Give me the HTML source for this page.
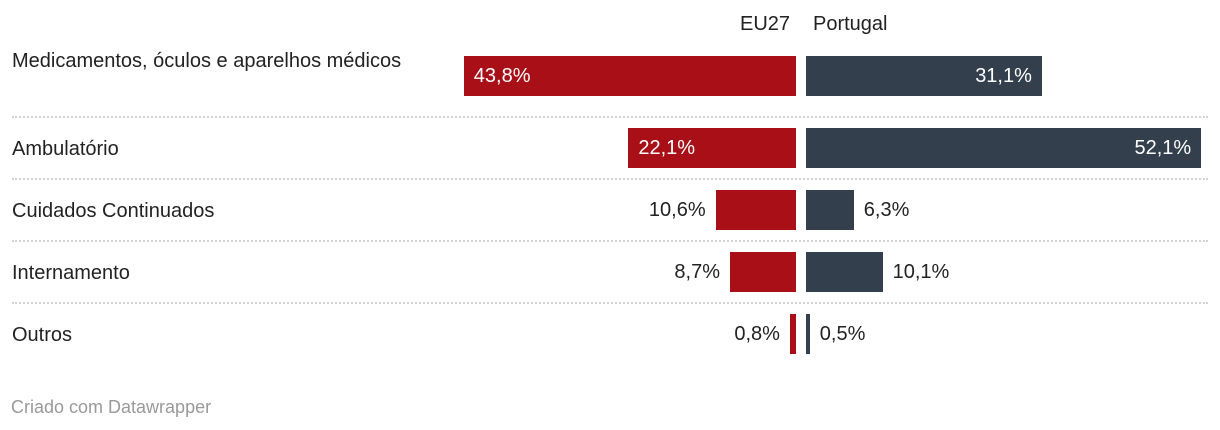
<!DOCTYPE html>
<html><head><meta charset="utf-8">
<style>
body{margin:0;width:1220px;height:430px;background:#fff;font-family:"Liberation Sans",sans-serif;overflow:hidden;position:relative}
.t{position:absolute;font-size:20px;color:#222;line-height:24px;white-space:nowrap}
.sep{position:absolute;left:12px;width:1196px;border-top:2px dotted #d4d4d4;height:0}
.bar{position:absolute}
</style></head><body>
<div class="t" style="left:740px;top:12px">EU27</div>
<div class="t" style="left:813px;top:12px">Portugal</div>
<div id="rows"></div>
<div class="t" style="left:11px;top:395px;font-size:18px;color:#999">Criado com Datawrapper</div>
<script>
const categories=["Medicamentos, óculos e aparelhos médicos","Ambulatório","Cuidados Continuados","Internamento","Outros"];
const euValues=[43.8,22.1,10.6,8.7,0.8];
const ptValues=[31.1,52.1,6.3,10.1,0.5];
const scale=v=>v*7.585;
const root=document.getElementById('rows');
const rowTop=[56,128,190,252,314];
const fmt=v=>v.toFixed(1).replace('.',',')+'%';
function mk(cls,css,txt){const d=document.createElement('div');d.className=cls;d.style.cssText=css;if(txt!==undefined)d.textContent=txt;root.appendChild(d);return d;}
categories.forEach((c,i)=>{
  const y=rowTop[i];
  const lab=mk('t',`left:12px;top:${i==0?y-8:y+8}px;width:420px;white-space:normal;line-height:26px`,c);
  
  
  if(i>0){const s=mk('sep',`top:${y-12}px`);
    
    }
  const ew=scale(euValues[i]);
  const eb=mk('bar',`left:${796-ew}px;top:${y}px;width:${ew}px;height:40px;background:#a80f17`);
  
  
  let el;
  if(ew>100){el=mk('t',`left:${796-ew+10}px;top:${y+8}px;color:#fff`,fmt(euValues[i]));}
  else{el=mk('t',`right:${1220-(796-ew)+10}px;top:${y+8}px`,fmt(euValues[i]));}
  
  
  const pw=scale(ptValues[i]);
  const pb=mk('bar',`left:806px;top:${y}px;width:${pw}px;height:40px;background:#333f4d`);
  
  
  let pl;
  if(pw>100){pl=mk('t',`right:${1220-(806+pw)+10}px;top:${y+8}px;color:#fff`,fmt(ptValues[i]));}
  else{pl=mk('t',`left:${806+pw+10}px;top:${y+8}px`,fmt(ptValues[i]));}
  
  
});
</script>
</body></html>
